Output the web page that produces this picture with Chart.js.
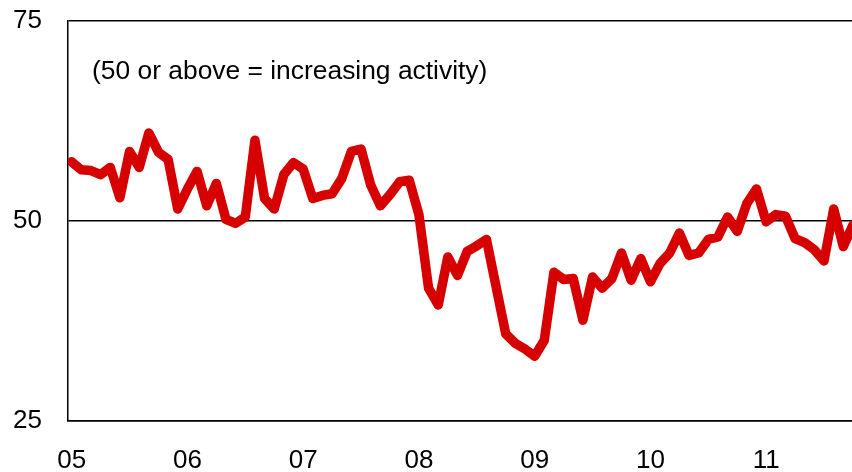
<!DOCTYPE html>
<html lang="en">
<head>
    <meta charset="UTF-8">
    <title>Activity Index</title>
    <style>
        html, body {
            margin: 0;
            padding: 0;
            background: #fff;
        }
        .chart-wrap {
            width: 852px;
            height: 472px;
        }
    </style>
</head>
<body>
<div class="chart-wrap">
    <canvas id="index-chart" width="852" height="472"></canvas>
</div>

<script src="https://cdn.jsdelivr.net/npm/chart.js"></script>
<script>
    // Monthly index readings, Jan 2005 onwards (one value per month)
    const values2005 = [57.4, 56.4, 56.3, 55.8, 56.7, 52.9, 58.7, 56.7, 61.0, 58.6, 57.7, 51.5];
    const values2006 = [54.0, 56.2, 51.9, 54.7, 50.2, 49.7, 50.5, 60.1, 52.8, 51.5, 55.8, 57.3];
    const values2007 = [56.5, 52.8, 53.2, 53.4, 55.3, 58.7, 59.0, 54.5, 51.9, 53.3, 54.9, 55.1];
    const values2008 = [50.8, 41.6, 39.5, 45.5, 43.2, 46.2, 46.9, 47.7, 41.8, 35.9, 34.7, 34.0];
    const values2009 = [33.1, 35.1, 43.6, 42.7, 42.8, 37.6, 43.0, 41.6, 42.8, 46.0, 42.6, 45.3];
    const values2010 = [42.4, 44.7, 46.0, 48.5, 45.7, 46.0, 47.7, 48.0, 50.5, 48.7, 52.2, 54.0];
    const values2011 = [49.9, 50.8, 50.6, 47.8, 47.3, 46.4, 45.0, 51.5, 46.8, 49.5];

    const yearLabels = ['05', '06', '07', '08', '09', '10', '11'];
    const yTicks = [25, 50, 75];
    const noteText = '(50 or above = increasing activity)';

    const indexValues = [].concat(values2005, values2006, values2007, values2008,
        values2009, values2010, values2011);

    const fontFamily = 'Arial, "Liberation Sans", sans-serif';

    // Writes the explanatory note in the upper left of the plot area
    const notePlugin = {
        id: 'note',
        afterDraw(chart) {
            const ctx = chart.ctx;
            const area = chart.chartArea;
            ctx.save();
            ctx.font = '26.4px ' + fontFamily;
            ctx.fillStyle = '#000';
            ctx.textBaseline = 'middle';
            ctx.textAlign = 'left';
            ctx.fillText(noteText, area.left + 24, area.top + 51);
            ctx.restore();
        }
    };

    const ctx = document.getElementById('index-chart').getContext('2d');
    new Chart(ctx, {
        type: 'line',
        data: {
            datasets: [{
                data: indexValues.map((v, i) => ({ x: i, y: v })),
                borderColor: 'rgb(214, 0, 0)',
                borderWidth: 9.5,
                borderJoinStyle: 'round',
                borderCapStyle: 'round',
                pointRadius: 0,
                tension: 0,
                fill: false
            }]
        },
        options: {
            responsive: false,
            animation: false,
            layout: {
                padding: { top: 21, right: 0, bottom: 0, left: 0 }
            },
            plugins: {
                legend: { display: false },
                tooltip: { enabled: false }
            },
            scales: {
                x: {
                    type: 'linear',
                    min: -0.38,
                    max: 80.9,
                    afterBuildTicks(scale) {
                        scale.ticks = yearLabels.map((_, i) => ({ value: i * 12 }));
                    },
                    afterFit(scale) {
                        scale.height = 51;
                        scale.paddingLeft = 0;
                        scale.paddingRight = 0;
                    },
                    grid: { display: false, drawTicks: false },
                    border: { display: true, color: '#000', width: 1.5 },
                    ticks: {
                        autoSkip: false,
                        maxRotation: 0,
                        padding: 24,
                        color: '#000',
                        font: { family: fontFamily, size: 26 },
                        callback: (value) => yearLabels[Math.round(value / 12)]
                    }
                },
                y: {
                    min: 25,
                    max: 75,
                    afterBuildTicks(scale) {
                        scale.ticks = yTicks.map(v => ({ value: v }));
                    },
                    afterFit(scale) {
                        scale.width = 68;
                        scale.paddingTop = 0;
                        scale.paddingBottom = 0;
                    },
                    grid: { color: '#000', lineWidth: 1.5, drawTicks: false },
                    border: { display: true, color: '#000', width: 1.5 },
                    ticks: {
                        padding: 26,
                        color: '#000',
                        font: { family: fontFamily, size: 26 }
                    }
                }
            }
        },
        plugins: [notePlugin]
    });
</script>
</body>
</html>
